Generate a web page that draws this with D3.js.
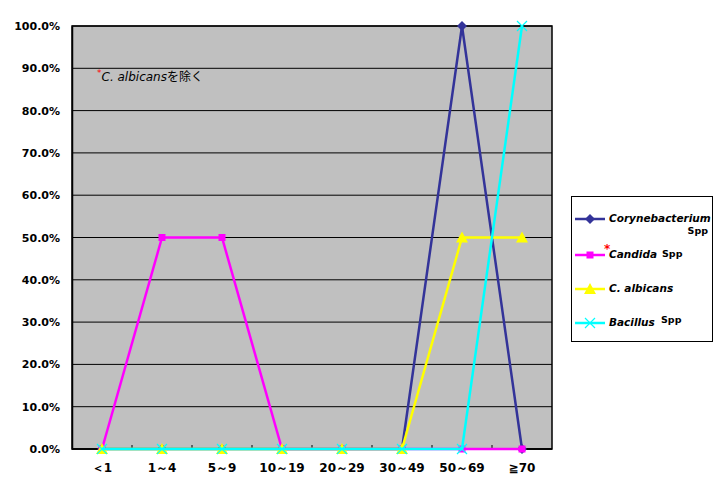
<!DOCTYPE html>
<html>
<head>
<meta charset="utf-8">
<script src="https://cdn.jsdelivr.net/npm/d3@7"></script>
<style>
  body { margin: 0; background: #fff; }
  text { font-family: "DejaVu Sans", sans-serif; }
</style>
</head>
<body>
<div id="chart"></div>
<script>
// categories and series (percent)
var ageGroups = ["＜1", "1～4", "5～9", "10～19", "20～29", "30～49", "50～69", "≧70"];
var coryne   = [0, 0, 0, 0, 0, 0, 100, 0];
var candida  = [0, 50, 50, 0, 0, 0, 0, 0];
var albicans = [0, 0, 0, 0, 0, 0, 50, 50];
var bacillus = [0, 0, 0, 0, 0, 0, 0, 100];
var yTicks = [0, 10, 20, 30, 40, 50, 60, 70, 80, 90, 100];

var series = [
  {name: "Corynebacterium", values: coryne, color: "#333399", marker: "diamond"},
  {name: "Candida", values: candida, color: "#ff00ff", marker: "square"},
  {name: "C. albicans", values: albicans, color: "#ffff00", marker: "triangle"},
  {name: "Bacillus", values: bacillus, color: "#00ffff", marker: "cross"}
];

var W = 728, H = 493;
var plot = {left: 72, top: 26, right: 552, bottom: 449};

var svg = d3.select("#chart").append("svg")
    .attr("width", W)
    .attr("height", H);

var x = d3.scaleBand().domain(d3.range(ageGroups.length)).range([plot.left, plot.right]);
var y = d3.scaleLinear().domain([0, 100]).range([plot.bottom, plot.top]);

// plot background
svg.append("rect")
    .attr("x", plot.left).attr("y", plot.top)
    .attr("width", plot.right - plot.left).attr("height", plot.bottom - plot.top)
    .attr("fill", "#c0c0c0")
    .attr("stroke", "#000").attr("stroke-width", 1.5);

// gridlines
svg.append("g").selectAll("line")
    .data(yTicks)
    .enter().append("line")
    .attr("x1", plot.left).attr("x2", plot.right)
    .attr("y1", function(d) { return y(d); })
    .attr("y2", function(d) { return y(d); })
    .attr("stroke", "#000").attr("stroke-width", 1);

// y axis
var yAxis = svg.append("g")
    .attr("transform", "translate(" + plot.left + ",0)")
    .call(d3.axisLeft(y).tickValues(yTicks).tickSize(0).tickPadding(12)
      .tickFormat(function(d) { return d.toFixed(1) + "%"; }));
yAxis.select(".domain").attr("stroke", "#000").attr("stroke-width", 1.5);
yAxis.selectAll("text")
    .style("font-size", "11px").style("font-weight", "bold")
    .attr("fill", "#000");

// x axis with inner ticks at category boundaries
var xAxisG = svg.append("g")
    .attr("transform", "translate(0," + plot.bottom + ")");
xAxisG.append("line")
    .attr("x1", plot.left).attr("x2", plot.right)
    .attr("stroke", "#000").attr("stroke-width", 1.5);
xAxisG.selectAll(".tk")
    .data(d3.range(1, ageGroups.length))
    .enter().append("line")
    .attr("x1", function(i) { return x(i); })
    .attr("x2", function(i) { return x(i); })
    .attr("y1", 0).attr("y2", -4)
    .attr("stroke", "#000");
xAxisG.selectAll(".lbl")
    .data(ageGroups)
    .enter().append("text")
    .attr("x", function(d, i) { return x(i) + x.bandwidth() / 2; })
    .attr("y", 23)
    .attr("text-anchor", "middle")
    .style("font-size", "12px").style("font-weight", "bold")
    .text(function(d) { return d; });

// markers
function drawMarker(g, type, color, cx, cy) {
  if (type === "diamond") {
    g.append("path").attr("d", "M" + cx + "," + (cy - 5) + "L" + (cx + 5) + "," + cy + "L" + cx + "," + (cy + 5) + "L" + (cx - 5) + "," + cy + "Z")
      .attr("fill", color);
  } else if (type === "square") {
    g.append("rect").attr("x", cx - 3.5).attr("y", cy - 3.5).attr("width", 7).attr("height", 7)
      .attr("fill", color);
  } else if (type === "triangle") {
    g.append("path").attr("d", "M" + cx + "," + (cy - 6) + "L" + (cx + 6) + "," + (cy + 5) + "L" + (cx - 6) + "," + (cy + 5) + "Z")
      .attr("fill", color);
  } else {
    g.append("path").attr("d", "M" + (cx - 5) + "," + (cy - 5) + "L" + (cx + 5) + "," + (cy + 5) + "M" + (cx + 5) + "," + (cy - 5) + "L" + (cx - 5) + "," + (cy + 5))
      .attr("stroke", color).attr("stroke-width", 1.2);
  }
}

var line = d3.line()
    .x(function(d, i) { return x(i) + x.bandwidth() / 2; })
    .y(function(d) { return y(d); });

series.forEach(function(s) {
  var g = svg.append("g");
  g.append("path")
      .datum(s.values)
      .attr("d", line)
      .attr("fill", "none")
      .attr("stroke", s.color)
      .attr("stroke-width", 2.5);
  s.values.forEach(function(v, i) {
    drawMarker(g, s.marker, s.color, x(i) + x.bandwidth() / 2, y(v));
  });
});

// annotation
var note = svg.append("text").attr("x", 97).attr("y", 81)
    .style("font-size", "12px");
note.append("tspan").attr("fill", "#ff0000").attr("dy", -5).style("font-size", "9px").text("*");
note.append("tspan").attr("dy", 5).style("font-style", "italic").text("C. albicans");
note.append("tspan").style("font-family", "'Noto Sans CJK JP'").text("を除く");

// legend
var leg = svg.append("g");
leg.append("rect")
    .attr("x", 571.5).attr("y", 196.5).attr("width", 141).attr("height", 145)
    .attr("fill", "#fff").attr("stroke", "#000").attr("stroke-width", 1);

var legY = [219, 255, 289, 323];
series.forEach(function(s, i) {
  var ly = legY[i];
  leg.append("line").attr("x1", 575).attr("x2", 605).attr("y1", ly).attr("y2", ly)
      .attr("stroke", s.color).attr("stroke-width", 2.5);
  drawMarker(leg, s.marker, s.color, 590, ly);
  leg.append("text").attr("x", 609).attr("y", ly + 3)
      .style("font-size", "10.5px").style("font-weight", "bold").style("font-style", "italic")
      .text(s.name);
});
leg.append("text").attr("x", 708).attr("y", 234).attr("text-anchor", "end")
    .style("font-size", "9.5px").style("font-weight", "bold").text("Spp");
leg.append("text").attr("x", 662).attr("y", 257)
    .style("font-size", "9.5px").style("font-weight", "bold").text("Spp");
leg.append("text").attr("x", 661).attr("y", 323)
    .style("font-size", "9.5px").style("font-weight", "bold").text("Spp");
leg.append("text").attr("x", 604).attr("y", 253).attr("fill", "#ff0000")
    .style("font-size", "12px").style("font-weight", "bold").text("*");
</script>
</body>
</html>
